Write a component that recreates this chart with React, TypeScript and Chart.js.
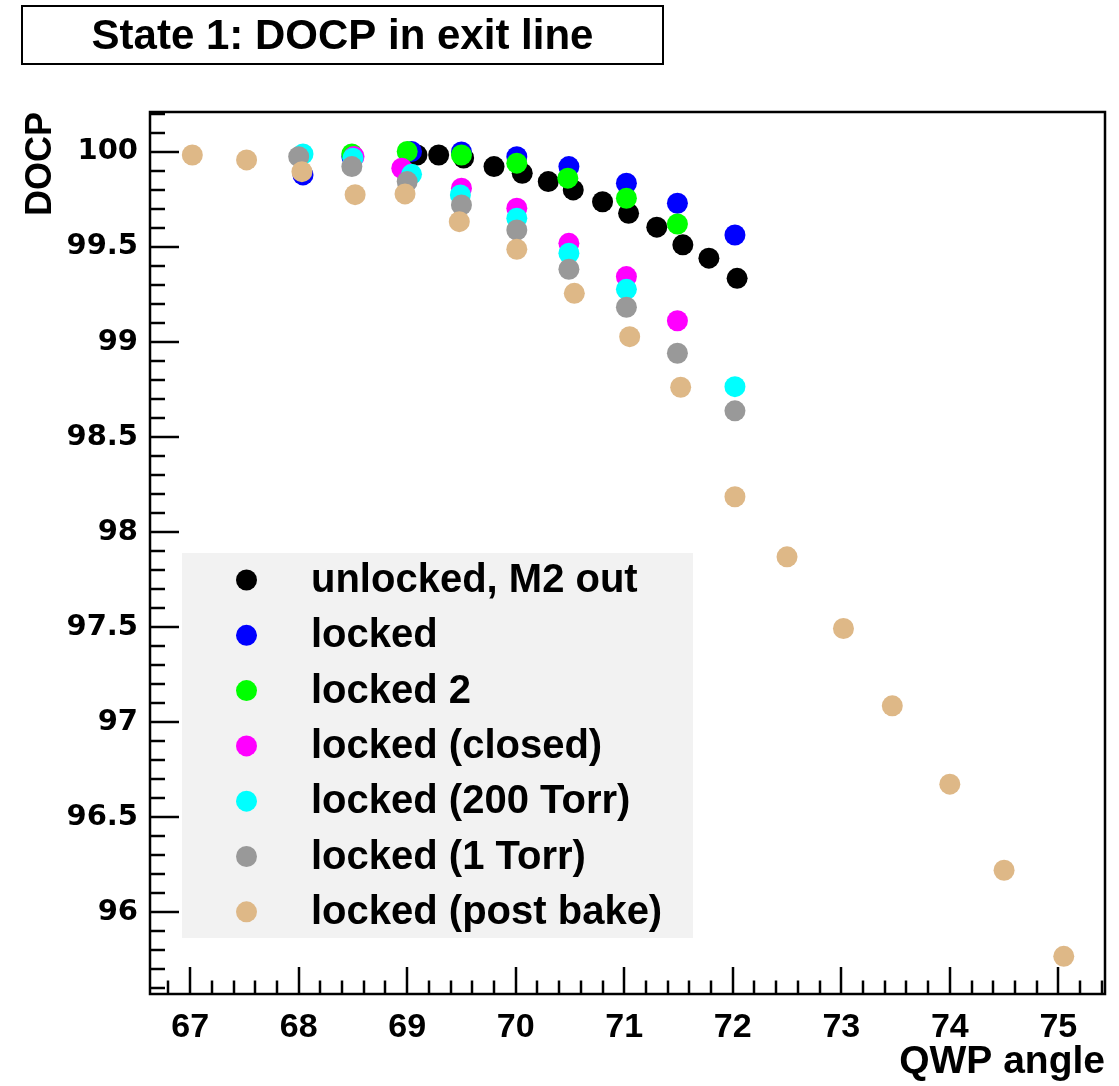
import React, { useEffect, useRef } from 'react';
import { Chart, registerables } from 'chart.js';

Chart.register(...registerables);

// ---- data ----
const seriesNames = [
  'unlocked, M2 out',
  'locked',
  'locked 2',
  'locked (closed)',
  'locked (200 Torr)',
  'locked (1 Torr)',
  'locked (post bake)',
];
const seriesColors = ['#000000', '#0000ff', '#00ff00', '#ff00ff', '#00ffff', '#999999', '#deb887'];

const unlockedX = [69.09, 69.29, 69.52, 69.8, 70.06, 70.3, 70.53, 70.8, 71.04, 71.3, 71.54, 71.78, 72.04];
const unlockedY = [99.984, 99.984, 99.968, 99.923, 99.888, 99.844, 99.8, 99.738, 99.677, 99.604, 99.511, 99.441, 99.335];

const lockedX = [68.04, 68.49, 69.04, 69.5, 70.01, 70.49, 71.02, 71.49, 72.02];
const lockedY = [99.879, 99.975, 100.002, 100.0, 99.975, 99.923, 99.835, 99.73, 99.563];

const locked2X = [68.49, 69.0, 69.5, 70.01, 70.48, 71.02, 71.49];
const locked2Y = [99.989, 100.002, 99.984, 99.941, 99.862, 99.756, 99.621];

const closedX = [68.51, 68.95, 69.5, 70.01, 70.49, 71.02, 71.49];
const closedY = [99.976, 99.914, 99.809, 99.704, 99.519, 99.344, 99.112];

const torr200X = [68.04, 68.5, 69.04, 69.49, 70.01, 70.49, 71.02, 72.02];
const torr200Y = [99.989, 99.967, 99.882, 99.774, 99.651, 99.467, 99.277, 98.765];

const torr1X = [68.0, 68.49, 69.0, 69.5, 70.01, 70.49, 71.02, 71.49, 72.02];
const torr1Y = [99.975, 99.923, 99.844, 99.721, 99.589, 99.383, 99.183, 98.941, 98.638];

const bakeX = [67.02, 67.52, 68.03, 68.52, 68.98, 69.48, 70.01, 70.54, 71.05, 71.52, 72.02, 72.5, 73.02, 73.47, 74.0, 74.5, 75.05];
const bakeY = [99.984, 99.958, 99.896, 99.775, 99.779, 99.633, 99.488, 99.256, 99.028, 98.762, 98.186, 97.87, 97.493, 97.086, 96.674, 96.221, 95.768];

const seriesX = [unlockedX, lockedX, locked2X, closedX, torr200X, torr1X, bakeX];
const seriesY = [unlockedY, lockedY, locked2Y, closedY, torr200Y, torr1Y, bakeY];

const titleText = 'State 1: DOCP in exit line';
const xTitle = 'QWP angle';
const yTitle = 'DOCP';

const X_MIN = 66.63;
const X_MAX = 75.43;
const Y_MIN = 95.57;
const Y_MAX = 100.21;

const W = 1119;
const H = 1086;

const decorPlugin = {
  id: 'decor',
  beforeDraw(chart: any) {
    const ctx = chart.ctx;
    ctx.save();
    ctx.fillStyle = '#ffffff';
    ctx.fillRect(0, 0, chart.width, chart.height);
    ctx.restore();
  },
  afterDraw(chart: any) {
    const ctx = chart.ctx;
    const a = chart.chartArea;
    const xs = chart.scales.x;
    const ys = chart.scales.y;
    ctx.save();
    // frame
    ctx.strokeStyle = '#000';
    ctx.lineWidth = 2.5;
    ctx.strokeRect(a.left, a.top, a.right - a.left, a.bottom - a.top);
    // x ticks (inward)
    ctx.lineWidth = 2.5;
    for (let i = 334; i <= 377; i++) {
      const v = i / 5;
      const px = Math.round(xs.getPixelForValue(v));
      if (px <= a.left + 1 || px >= a.right - 1) continue;
      const major = i % 5 === 0;
      const len = major ? 27 : 13.5;
      ctx.beginPath();
      ctx.moveTo(px, a.bottom);
      ctx.lineTo(px, a.bottom - len);
      ctx.stroke();
    }
    // y ticks (inward)
    for (let i = 956; i <= 1002; i++) {
      const v = i / 10;
      const py = Math.round(ys.getPixelForValue(v));
      if (py <= a.top + 1 || py >= a.bottom - 1) continue;
      const major = i % 5 === 0;
      const len = major ? 29 : 15;
      ctx.beginPath();
      ctx.moveTo(a.left, py);
      ctx.lineTo(a.left + len, py);
      ctx.stroke();
    }
    // title box
    ctx.lineWidth = 2;
    ctx.strokeRect(22, 6, 641, 58);
    ctx.fillStyle = '#000';
    ctx.font = 'bold 42px "Liberation Sans", Arial, sans-serif';
    ctx.textAlign = 'center';
    ctx.textBaseline = 'middle';
    ctx.fillText(titleText, 342.5, 37);
    // legend
    ctx.fillStyle = '#f2f2f2';
    ctx.fillRect(182, 553, 511, 385);
    ctx.font = 'bold 40px "Liberation Sans", Arial, sans-serif';
    ctx.textAlign = 'left';
    ctx.textBaseline = 'middle';
    chart.data.datasets.forEach((ds: any, i: number) => {
      const cy = 580 + 55.3 * i;
      ctx.fillStyle = ds.backgroundColor;
      ctx.beginPath();
      ctx.arc(246.5, cy, 10.5, 0, Math.PI * 2);
      ctx.fill();
      ctx.fillStyle = '#000';
      ctx.fillText(ds.label, 311, cy + 1);
    });
    ctx.restore();
  },
};

export default function App() {
  const ref = useRef<HTMLCanvasElement | null>(null);
  useEffect(() => {
    document.body.style.margin = '0';
    const canvas = ref.current;
    if (!canvas) return;
    const datasets = seriesNames.map((name, i) => ({
      label: name,
      data: seriesX[i].map((x, j) => ({ x, y: seriesY[i][j] })),
      backgroundColor: seriesColors[i],
      borderColor: seriesColors[i],
      borderWidth: 0,
      pointRadius: 10.5,
      pointHoverRadius: 10.5,
      pointStyle: 'circle',
      showLine: false,
      order: seriesNames.length - i,
    }));
    const chart = new Chart(canvas, {
      type: 'scatter',
      data: { datasets },
      options: {
        animation: false,
        responsive: false,
        devicePixelRatio: 1,
        layout: { padding: { top: 112, right: 14, left: 0, bottom: 0 } },
        plugins: {
          legend: { display: false },
          title: { display: false },
          tooltip: { enabled: false },
        },
        scales: {
          x: {
            type: 'linear',
            min: X_MIN,
            max: X_MAX,
            grid: { display: false },
            border: { display: false },
            ticks: {
              stepSize: 1,
              includeBounds: false,
              autoSkip: false,
              maxRotation: 0,
              padding: 5,
              color: '#000',
              font: { family: '"Liberation Sans", Arial, sans-serif', weight: 'bold', size: 34 },
              callback: (v: any) => String(Math.round(Number(v))),
            },
            title: {
              display: true,
              text: xTitle,
              align: 'end',
              color: '#000',
              padding: { top: 0, bottom: 0 },
              font: { family: '"Liberation Sans", Arial, sans-serif', weight: 'bold', size: 39 },
            },
            afterFit: (s: any) => {
              s.height = 92;
            },
          },
          y: {
            type: 'linear',
            min: Y_MIN,
            max: Y_MAX,
            grid: { display: false },
            border: { display: false },
            ticks: {
              stepSize: 0.5,
              includeBounds: false,
              autoSkip: false,
              padding: 4,
              color: '#000',
              font: { family: '"DejaVu Sans", sans-serif', weight: 'bold', size: 29 },
              callback: (v: any) => String(Math.round(Number(v) * 10) / 10),
            },
            title: {
              display: true,
              text: yTitle,
              align: 'end',
              color: '#000',
              padding: { top: 19, bottom: 0 },
              font: { family: '"Liberation Sans", Arial, sans-serif', weight: 'bold', size: 36 },
            },
            afterFit: (s: any) => {
              s.width = 150;
            },
          },
        },
      },
      plugins: [decorPlugin],
    });
    return () => chart.destroy();
  }, []);
  return (
    <div style={{ position: 'fixed', left: 0, top: 0, width: W, height: H, background: '#fff' }}>
      <canvas ref={ref} width={W} height={H} style={{ display: 'block', width: W, height: H }} />
    </div>
  );
}
